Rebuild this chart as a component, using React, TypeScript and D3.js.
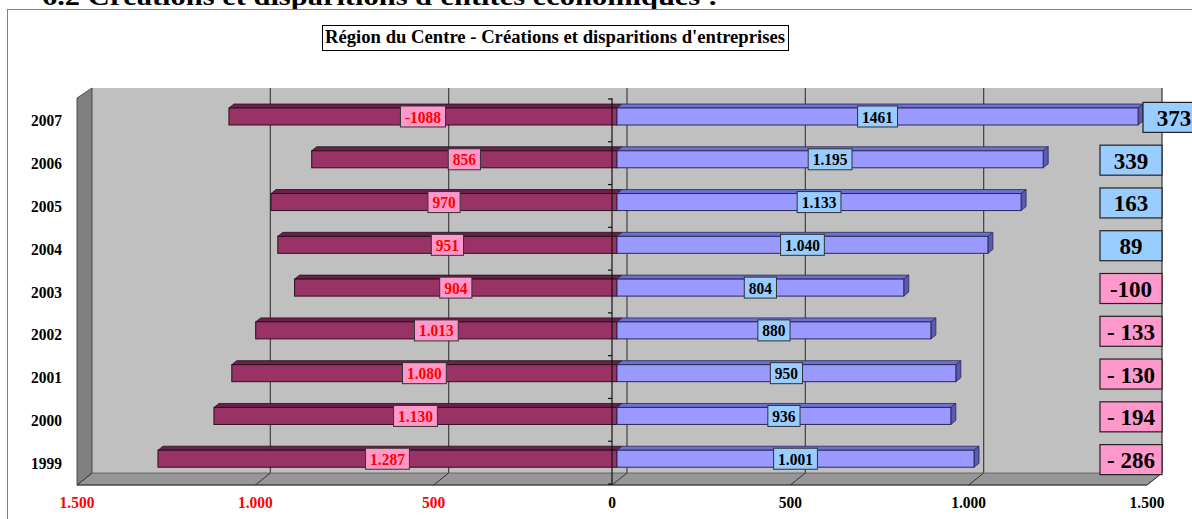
import React from 'react';
import * as d3 from 'd3';

// data (2007 at top, 1999 at bottom)
const years = ['2007', '2006', '2005', '2004', '2003', '2002', '2001', '2000', '1999'];
const disparitions = [1088, 856, 970, 951, 904, 1013, 1080, 1130, 1287];
const creations = [1461, 1195, 1133, 1040, 804, 880, 950, 936, 1001];
const disparitionLabels = ['-1088', '856', '970', '951', '904', '1.013', '1.080', '1.130', '1.287'];
const creationLabels = ['1461', '1.195', '1.133', '1.040', '804', '880', '950', '936', '1.001'];
const soldes = [373, 339, 163, 89, -100, -133, -130, -194, -286];
const soldeLabels = ['373', '339', '163', '89', '-100', '- 133', '- 130', '- 194', '- 286'];
const xTicks = [-1500, -1000, -500, 0, 500, 1000, 1500];

const heading = "6.2 Créations et disparitions d'entités économiques :";
const chartTitle = "Région du Centre - Créations et disparitions d'entreprises";

const W = 1192;
const H = 519;
const FONT = '"Liberation Serif", "Times New Roman", serif';
const SX = 0.91; // the original text is a bit narrow

// rough width of bold serif text
function textWidth(s: string, size: number) {
  let w = 0;
  for (const c of s) {
    if (c === '.' || c === ' ') w += 0.25;
    else if (c === '-') w += 0.333;
    else w += 0.5;
  }
  return w * size;
}

// narrow text drawn at (px, py)
function NText(props: { px: number; py: number; size: number; anchor?: string; fill?: string; sx?: number; children: any }) {
  const sx = props.sx ?? SX;
  return (
    <text transform={`translate(${props.px},${props.py}) scale(${sx},1)`} fontSize={props.size}
      textAnchor={props.anchor ?? 'middle'} fill={props.fill ?? '#000'}>{props.children}</text>
  );
}

export default function App() {
  const x = d3.scaleLinear().domain([-1500, 1500]).range([77, 1147]);
  const y = d3.scaleBand().domain(years).range([99, 484]).padding(0);

  const floorY = 485;
  const depthX = 15, depthY = 12; // wall depth
  const barDx = 5, barDy = 4;     // bar depth
  const barOff = 5;                // bars sit a bit behind the front plane
  const barTop = 9, barH = 17;

  const left = x(-1500), right = x(1500);
  const wallTop = 88;

  const fmt = d3.formatLocale({ decimal: ',', thousands: '.', grouping: [3], currency: ['', ''] }).format(',d');

  const zero = x(0);
  const boundaries = years.map(yr => y(yr) as number).concat([y.range()[1]]);

  return (
    <svg width={W} height={H} style={{ position: 'absolute', left: 0, top: 0, background: '#fff' }}
      fontFamily={FONT} fontWeight="bold">
      {/* page heading, cut at the top as in the source page */}
      <text x={42} y={5} fontSize={25} textLength={676} lengthAdjust="spacingAndGlyphs" fill="#000">{heading}</text>

      {/* chart frame */}
      <rect x={7.5} y={9.5} width={1300} height={600} fill="#fff" stroke="#808080" />

      {/* title */}
      <rect x={322.5} y={25.5} width={466} height={25} fill="#fff" stroke="#000" />
      <text x={325} y={43} fontSize={18} textLength={460} lengthAdjust="spacingAndGlyphs" fill="#000">{chartTitle}</text>

      {/* back wall */}
      <rect x={left + depthX} y={wallTop} width={right - left} height={floorY - depthY - wallTop} fill="#c0c0c0" />
      {/* back gridlines */}
      {xTicks.slice(1).map(t => (
        <line key={'g' + t} x1={x(t) + depthX} x2={x(t) + depthX} y1={wallTop} y2={floorY - depthY}
          stroke={t === 1500 ? '#303030' : '#404040'} strokeWidth={1.2} />
      ))}
      {/* floor */}
      <polygon points={`${left},${floorY} ${right},${floorY} ${right + depthX},${floorY - depthY} ${left + depthX},${floorY - depthY}`}
        fill="#969696" stroke="#555" strokeWidth={0.8} />
      <line x1={left} x2={right} y1={floorY} y2={floorY} stroke="#333" strokeWidth={1.2} />
      {xTicks.map(t => (
        <line key={'ft' + t} x1={x(t)} y1={floorY} x2={x(t) + depthX} y2={floorY - depthY} stroke="#333" strokeWidth={1} />
      ))}
      {/* left wall */}
      <polygon points={`${left},${wallTop + 10} ${left + depthX},${wallTop} ${left + depthX},${floorY - depthY} ${left},${floorY}`}
        fill="#808080" stroke="#333" strokeWidth={0.8} />

      {/* disparitions (left) */}
      {years.map((yr, i) => {
        const y0 = (y(yr) as number) + barTop;
        const x0 = x(-disparitions[i]) + barOff;
        const x1 = zero + barOff;
        return (
          <g key={'d' + yr}>
            <polygon points={`${x0},${y0} ${x0 + barDx},${y0 - barDy} ${x1 + barDx},${y0 - barDy} ${x1},${y0}`}
              fill="#6b2249" stroke="#2a1020" strokeWidth={0.8} />
            <rect x={x0} y={y0} width={x1 - x0} height={barH} fill="#993366" stroke="#2a1020" strokeWidth={1} />
          </g>
        );
      })}

      {/* créations (right) */}
      {years.map((yr, i) => {
        const y0 = (y(yr) as number) + barTop;
        const x0 = zero + barOff;
        const x1 = x(creations[i]) + barOff;
        return (
          <g key={'c' + yr}>
            <polygon points={`${x0},${y0} ${x0 + barDx},${y0 - barDy} ${x1 + barDx},${y0 - barDy} ${x1},${y0}`}
              fill="#6f6fcf" stroke="#2a2a55" strokeWidth={0.8} />
            <polygon points={`${x1},${y0} ${x1 + barDx},${y0 - barDy} ${x1 + barDx},${y0 + barH - barDy} ${x1},${y0 + barH}`}
              fill="#5a5ab0" stroke="#2a2a55" strokeWidth={0.8} />
            <rect x={x0} y={y0} width={x1 - x0} height={barH} fill="#9999ff" stroke="#2a2a55" strokeWidth={1} />
          </g>
        );
      })}

      {/* zero axis with category ticks */}
      <line x1={zero} x2={zero} y1={98} y2={floorY} stroke="#111" strokeWidth={1.2} />
      {boundaries.map((b, i) => (
        <line key={'yt' + i} x1={zero - 4} x2={zero} y1={b} y2={b} stroke="#111" strokeWidth={1.2} />
      ))}

      {/* data labels */}
      {years.map((yr, i) => {
        const cy = (y(yr) as number) + barTop + barH / 2;
        const dcx = (x(-disparitions[i]) + zero) / 2 + barOff;
        const ccx = (zero + x(creations[i])) / 2 + barOff;
        const dw = textWidth(disparitionLabels[i], 17) * SX + 9;
        const cw = textWidth(creationLabels[i], 17) * SX + 9;
        return (
          <g key={'l' + yr}>
            <rect x={dcx - dw / 2} y={cy - 10.5} width={dw} height={21} fill="#ff99cc" stroke="#333" strokeWidth={1} />
            <NText px={dcx} py={cy + 6} size={17} fill="#ff0000">{disparitionLabels[i]}</NText>
            <rect x={ccx - cw / 2} y={cy - 10.5} width={cw} height={21} fill="#99ccff" stroke="#333" strokeWidth={1} />
            <NText px={ccx} py={cy + 6} size={17}>{creationLabels[i]}</NText>
          </g>
        );
      })}

      {/* solde boxes on the right */}
      {years.map((yr, i) => {
        const cy = (y(yr) as number) + y.bandwidth() / 2 - 3;
        const bw = 62, bh = 30;
        const rx = right + depthX - (i === 0 ? -43 : 0);
        return (
          <g key={'s' + yr}>
            <rect x={rx - bw} y={cy - bh / 2} width={bw} height={bh}
              fill={soldes[i] >= 0 ? '#99ccff' : '#ff99cc'} stroke="#222" strokeWidth={1.2} />
            <NText px={rx - bw / 2} py={cy + 8.5} size={24} sx={0.96}>{soldeLabels[i]}</NText>
          </g>
        );
      })}

      {/* x axis labels */}
      {xTicks.map(t => (
        <NText key={'xl' + t} px={x(t)} py={508} size={17} fill={t < 0 ? '#ff0000' : '#000'}>
          {fmt(Math.abs(t))}
        </NText>
      ))}

      {/* year labels */}
      {years.map(yr => (
        <NText key={'yl' + yr} px={62} py={(y(yr) as number) + y.bandwidth() / 2 + 6} size={17} anchor="end">{yr}</NText>
      ))}
    </svg>
  );
}
